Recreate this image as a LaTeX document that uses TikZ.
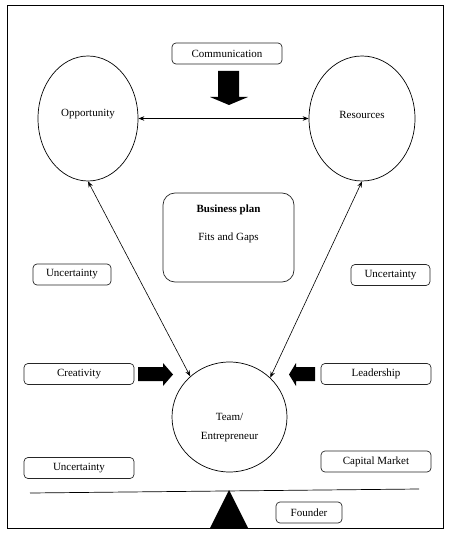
\documentclass[tikz,border=0pt]{standalone}
\usepackage{fontspec}
\setmainfont{Liberation Serif}
\usetikzlibrary{shapes.geometric,arrows.meta}
\tikzset{
  lbl/.style={rectangle, rounded corners=4pt, draw=black!85, line width=0.7pt, minimum height=21pt, inner sep=0pt, font=\fontsize{11}{13}\selectfont},
  oval/.style={ellipse, draw, line width=0.7pt, inner sep=0pt},
  txt/.style={inner sep=0pt, font=\fontsize{11}{13}\selectfont},
  link/.style={line width=0.6pt, {Stealth[length=6pt,width=4.5pt]}-{Stealth[length=6pt,width=4.5pt]}},
  blockarrow/.style={fill=black, draw=none}
}
\begin{document}
\begin{tikzpicture}[x=1pt,y=-1pt]
\useasboundingbox (0,0) rectangle (449,534);
\draw[line width=0.8pt] (7,5) rectangle (443,528);
% top label and block arrow
\node[lbl, minimum width=110pt] (comm) at (227,53.5) {Communication};
\fill[blockarrow] (218,71) -- (239,71) -- (239,97) -- (248,97) -- (229,105) -- (210,97) -- (218,97) -- cycle;
% ellipses
\node[oval, minimum width=100pt, minimum height=125pt, label={[txt,yshift=4pt]center:Opportunity}] (opp) at (88,118.5) {};
\node[oval, minimum width=106pt, minimum height=125pt, label={[txt,yshift=4pt]center:Resources}] (res) at (362,118.5) {};
\draw[link] (opp.east) -- (res.west);
% business plan
\node[rectangle, rounded corners=12pt, draw=black!85, line width=0.7pt, minimum width=131pt, minimum height=89pt, inner sep=0pt] (bp) at (228.5,237.5) {};
\node[txt, font=\fontsize{11}{13}\selectfont\bfseries] (bpt) at (228.5,210) {Business plan};
\node[txt] (fg) at (228.5,238) {Fits and Gaps};
% uncertainty labels
\node[lbl, minimum width=78pt] (unl) at (72,274.5) {Uncertainty};
\node[lbl, minimum width=79pt] (unr) at (390.5,275) {Uncertainty};
% team
\node[oval, minimum width=115pt, minimum height=110pt] (team) at (229.5,417) {};
\node[txt, align=center] (teamt) at (229.5,428) {Team/\\[6pt]Entrepreneur};
\draw[link] (opp.south) -- (team.134);
\draw[link] (res.south) -- (team.44);
% creativity / leadership
\node[lbl, minimum width=110pt] (cre) at (79,374) {Creativity};
\fill[blockarrow] (138,367) -- (163,367) -- (163,363) -- (173,374.5) -- (163,386) -- (163,381) -- (138,381) -- cycle;
\node[lbl, minimum width=110pt] (lead) at (376,374) {Leadership};
\fill[blockarrow] (315,367) -- (296,367) -- (296,363) -- (289,374.5) -- (296,386) -- (296,381) -- (315,381) -- cycle;
% bottom
\node[lbl, minimum width=110pt] (unb) at (79,468) {Uncertainty};
\node[lbl, minimum width=110pt] (cap) at (376,461.5) {Capital Market};
\coordinate (bl) at (30,493);
\coordinate (br) at (419,489);
\draw[line width=0.7pt] (bl) -- (br);
\fill[black] (229,490) -- (248,528) -- (210,528) -- cycle;
\node[lbl, minimum width=66pt] (found) at (309,512.5) {Founder};
\end{tikzpicture}
\end{document}
